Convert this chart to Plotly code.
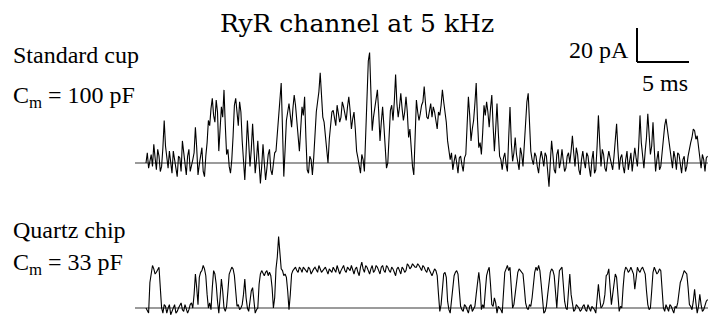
import numpy as np
import plotly.graph_objects as go

# ---------------- data ----------------
dt_ms = 0.125  # sampling step of the traces, ms

# Standard cup recording (pA)
standard_cup_pA = [
    0, 6, -3, 2, 5, -2, 11, 3, -4, 8, 4, -5, -2, 9, 25, 10, 4, -3, 7, 1,
    -6, 7, 3, -3, -8, 4, 3, -5, 13, 6, -4, -7, 4, 8, -5, -2, 2, 6, 21, 9,
    -7, -1, 5, 9, -5, -8, 4, 12, 25, 22, 32, 38, 28, 24, 37, 30, 7, 18, 33, 27,
    43, 22, 5, 8, -2, -6, 2, 16, 34, 38, 27, 22, 36, 30, 13, 2, -10, 6, 25, 12,
    -2, 8, 23, 9, -6, 2, 13, 0, -12, -2, 11, 0, -10, -3, 5, 8, -4, -7, 2, 6,
    7, 18, 30, 36, 47, 20, -8, 8, 25, 30, 35, 28, 21, 32, 40, 34, 23, 15, 7, 20,
    33, 28, 39, 15, -4, -6, 4, 2, -7, 3, 17, 30, 36, 42, 53, 35, 27, 24, 17, 8,
    0, 14, 25, 30, 31, 26, 22, 34, 29, 24, 27, 36, 33, 28, 25, 33, 39, 31, 20, 26,
    30, 20, 7, 3, -1, -6, 5, 2, -5, 20, 49, 60, 65, 40, 19, 27, 33, 36, 43, 30,
    13, 24, 33, 22, 7, -3, 0, 18, 31, 34, 25, 36, 52, 35, 27, 33, 41, 32, 25, 30,
    39, 30, 15, 20, 5, -2, -7, 15, 37, 30, 25, 29, 34, 36, 45, 35, 27, 26, 32, 35,
    27, 33, 30, 26, 20, 30, 28, 34, 43, 36, 30, 24, 13, 8, 2, 6, -4, 1, 5, 0,
    -6, 3, 4, -1, -5, 3, 5, 22, 39, 28, 13, 20, 25, 35, 47, 25, 9, 12, 5, 18,
    34, 28, 36, 30, 21, 32, 40, 22, 7, 20, 35, 18, 4, 2, -4, 3, 6, -1, -5, 15,
    33, 12, 1, 6, 15, 5, 0, -4, 9, 5, -2, 12, 29, 36, 41, 25, 7, 2, -1, 6,
    4, -2, -6, 2, 7, 3, -2, 6, 4, -5, -14, 0, 13, 5, -4, -6, 5, 8, -3, 1,
    8, 1, -5, -3, 4, 6, 0, 7, 16, 6, -2, 9, 5, -4, -7, 2, 7, 1, -3, 6,
    4, -3, -8, 2, 7, -6, -4, 10, 28, 12, -2, 8, 5, -3, -5, 2, 7, 3, -1, -4,
    4, 12, 23, 8, -4, 3, 5, -2, -6, 2, 7, -4, 0, 6, -5, 1, 9, 3, -2, 10,
    28, 12, 2, -3, 7, 15, 29, 14, 5, 10, 24, 8, -5, 2, 7, -4, -2, 6, 17, 22,
    26, 20, 13, 6, 2, -3, 7, 3, -4, 6, 5, -2, -6, 2, 4, -5, -2, 4, 9, 12,
    15, 20, 19, 14, 16, 9, 0, -3, 5, 2, -5, 3, 4,
]

# Quartz chip recording (pA)
quartz_chip_pA = [
    0, -2, -3, 15, 19, 25, 23, 20, 21, 23, 24, 12, 0, -3, 2, 1, -3, 0, 2, -4,
    -2, 1, 2, -3, -2, 0, 2, 3, -1, -2, 2, 0, -3, -1, 2, 3, 0, 8, 20, 12,
    2, 18, 21, 22, 25, 23, 19, 8, 0, 3, -1, 12, 22, 20, 14, 4, -3, 6, 17, 10,
    0, -2, 1, 10, 20, 22, 24, 23, 19, 10, 1, 2, -1, 0, 2, 8, 17, 6, 0, -2,
    5, 10, 12, 4, -3, -1, 0, 14, 20, 22, 20, 19, 21, 22, 19, 21, 19, 12, 0, 6,
    23, 30, 42, 32, 23, 22, 19, 20, 18, 10, -1, 8, 20, 22, 23, 24, 22, 21, 24, 23,
    21, 24, 23, 22, 21, 24, 23, 20, 22, 23, 24, 22, 21, 25, 23, 21, 22, 23, 24, 22,
    20, 23, 22, 21, 24, 22, 21, 25, 23, 20, 22, 24, 25, 22, 21, 24, 23, 22, 25, 23,
    20, 23, 24, 21, 19, 24, 27, 23, 21, 25, 24, 22, 20, 23, 25, 21, 22, 25, 24, 22,
    20, 24, 25, 22, 21, 25, 24, 22, 21, 24, 23, 21, 19, 23, 24, 22, 20, 24, 23, 21,
    22, 26, 25, 23, 24, 26, 25, 24, 24, 26, 25, 23, 22, 25, 24, 22, 21, 24, 22, 20,
    19, 21, 23, 22, 19, 8, -2, 2, 14, 20, 21, 18, 4, -1, -3, 4, 14, 19, 21, 22,
    20, 12, 1, -1, -2, 2, 1, -1, -3, 1, 2, -2, 0, 1, 8, 16, 21, 14, -1, 2,
    0, 10, 19, 22, 24, 14, 2, 1, 6, 3, -3, 1, 0, -1, -3, 10, 21, 23, 25, 22,
    24, 12, 0, 2, 9, 16, 21, 23, 22, 21, 20, 12, 3, 0, -1, 2, 1, 6, 16, 21,
    24, 22, 25, 22, 14, 4, -3, -2, 1, 8, 17, 21, 23, 22, 19, 10, 0, 12, 22, 23,
    24, 14, 4, 0, -1, 10, 20, 8, 1, -2, -1, 2, 1, 0, -2, -1, 1, 2, -1, -2,
    2, 0, -2, 1, 0, -1, -3, 4, 14, 6, 0, 1, 3, 8, 19, 20, 23, 12, 2, 8,
    16, 20, 18, 6, -2, 1, 0, 12, 21, 24, 23, 21, 22, 24, 22, 20, 11, 18, 24, 22,
    21, 23, 24, 22, 20, 10, 2, -1, 0, 10, 21, 24, 22, 20, 21, 23, 22, 12, 0, -2,
    2, 0, -2, 2, 1, -1, -3, 1, 0, 3, 10, 15, 17, 20, 22, 21, 20, 12, 2, 1,
    -1, 4, 11, 3, -3, 1, 8, 2, -2, -1, 2, 4, 5,
]

row_labels = ["Standard cup", "Quartz chip"]
cap_labels = ["C<sub>m</sub> = 100 pF", "C<sub>m</sub> = 33 pF"]
title_text = "RyR channel at 5 kHz"
scale_pA = 20
scale_ms = 5
scale_labels = ["20 pA", "5 ms"]

# ---------------- geometry ----------------
W, H = 708, 316
PX_PER_MS = 10.4
PX_PER_PA = 1.7
TRACE_X0_PX = 146
TOP_BASE_PX = 163
BOT_BASE_PX = 308
BASELINE_X0_PX = 135

t_top = (np.arange(len(standard_cup_pA)) * dt_ms).tolist()
t_bot = (np.arange(len(quartz_chip_pA)) * dt_ms).tolist()

x_range = [-TRACE_X0_PX / PX_PER_MS, (W - TRACE_X0_PX) / PX_PER_MS]
y1_range = [-(H - TOP_BASE_PX) / PX_PER_PA, TOP_BASE_PX / PX_PER_PA]
y2_range = [-(H - BOT_BASE_PX) / PX_PER_PA, BOT_BASE_PX / PX_PER_PA]

LABEL_FONT = "Times"          # rendered as a Times-like serif at 24 px here
TITLE_FONT = "DejaVu Serif"   # serif that renders reliably at larger sizes

fig = go.Figure()
fig.add_trace(go.Scatter(x=t_top, y=standard_cup_pA, mode="lines",
                         line=dict(color="black", width=1.1), yaxis="y",
                         hoverinfo="skip", showlegend=False))
fig.add_trace(go.Scatter(x=t_bot, y=quartz_chip_pA, mode="lines",
                         line=dict(color="black", width=1.1), yaxis="y2",
                         hoverinfo="skip", showlegend=False))

bx0 = (BASELINE_X0_PX - TRACE_X0_PX) / PX_PER_MS
shapes = [
    dict(type="line", xref="x", yref="y", x0=bx0, x1=x_range[1], y0=0, y1=0,
         line=dict(color="#7a7a7a", width=1.6), layer="below"),
    dict(type="line", xref="x", yref="y2", x0=bx0, x1=x_range[1], y0=0, y1=0,
         line=dict(color="#7a7a7a", width=1.6), layer="below"),
]
# scale bar
sb_x0 = (637 - TRACE_X0_PX) / PX_PER_MS
sb_y0 = (TOP_BASE_PX - 62) / PX_PER_PA
shapes.append(dict(type="line", xref="x", yref="y", x0=sb_x0, x1=sb_x0,
                   y0=sb_y0, y1=sb_y0 + scale_pA, line=dict(color="black", width=2)))
shapes.append(dict(type="line", xref="x", yref="y", x0=sb_x0, x1=sb_x0 + scale_ms,
                   y0=sb_y0, y1=sb_y0, line=dict(color="black", width=2)))

def ann(text, xpx, ypx, size, family, xanchor="left"):
    return dict(text=text, x=xpx / W, y=1 - ypx / H, xref="paper", yref="paper",
                xanchor=xanchor, yanchor="middle", showarrow=False,
                font=dict(family=family, size=size, color="black"))

annotations = [
    ann(title_text, 357, 23.6, 25, TITLE_FONT, "center"),
    ann(row_labels[0], 11, 54.6, 24, LABEL_FONT),
    ann(cap_labels[0], 11, 97.4, 24, LABEL_FONT),
    ann(row_labels[1], 11, 229.9, 24, LABEL_FONT),
    ann(cap_labels[1], 11, 264.4, 24, LABEL_FONT),
    ann(scale_labels[0], 631, 50.2, 24, LABEL_FONT, "right"),
    ann(scale_labels[1], 665, 82.6, 24, LABEL_FONT, "center"),
]

fig.update_layout(
    width=W, height=H,
    margin=dict(l=0, r=0, t=0, b=0),
    paper_bgcolor="white", plot_bgcolor="white",
    xaxis=dict(range=x_range, visible=False, fixedrange=True),
    yaxis=dict(range=y1_range, visible=False, fixedrange=True),
    yaxis2=dict(range=y2_range, visible=False, overlaying="y", fixedrange=True),
    shapes=shapes, annotations=annotations, showlegend=False,
)

fig.write_html("out.html", post_script="document.body.style.margin='0';",
               config={"displayModeBar": False})
